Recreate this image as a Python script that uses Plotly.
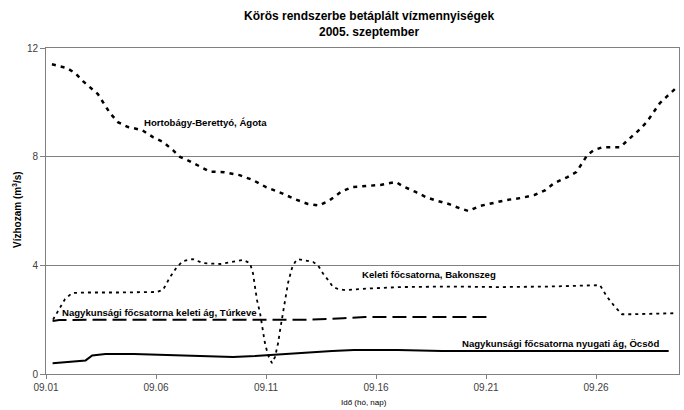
import plotly.graph_objects as go

# ---- data ----
tick_days = [1, 6, 11, 16, 21, 26]
tick_labels = ["09.01", "09.06", "09.11", "09.16", "09.21", "09.26"]

hb_day = [1.27, 1.95, 2.32, 2.68, 3.09, 3.36, 3.91, 4.27, 4.73, 5.36, 5.86, 6.32, 6.77, 7.09,
          7.41, 7.86, 8.45, 9.1, 9.8, 10.4, 11.0, 11.7, 12.3, 12.9, 13.4, 13.9, 14.4, 14.9,
          15.6, 16.2, 16.9, 17.2, 17.8, 18.3, 18.8, 19.3, 19.8, 20.2, 20.7, 21.3, 21.9, 22.6,
          23.2, 23.7, 24.1, 24.7, 25.1, 25.4, 25.6, 25.9, 26.3, 26.7, 27.1, 27.5, 27.9, 28.3,
          28.6, 28.9, 29.2, 29.6]
hb_val = [11.4, 11.26, 11.08, 10.78, 10.49, 10.3, 9.6, 9.27, 9.09, 8.98, 8.72, 8.54, 8.24, 7.99,
          7.88, 7.69, 7.45, 7.43, 7.32, 7.14, 6.88, 6.66, 6.44, 6.26, 6.2, 6.4, 6.7, 6.88,
          6.92, 6.96, 7.07, 6.92, 6.7, 6.5, 6.37, 6.26, 6.1, 6.0, 6.18, 6.3, 6.4, 6.48,
          6.59, 6.77, 7.03, 7.25, 7.43, 7.8, 8.06, 8.24, 8.35, 8.35, 8.35, 8.65, 8.94, 9.27,
          9.6, 9.97, 10.2, 10.5]

ke_day = [1.32, 1.55, 1.86, 2.18, 2.86, 4.36, 6.05, 6.32, 6.64, 6.95, 7.23, 7.68, 8.14, 8.91,
          9.5, 9.95, 10.27, 10.41, 10.5, 10.59, 10.73, 10.86, 10.95, 11.09, 11.27, 11.41,
          11.55, 11.64, 11.77, 11.86, 12.0, 12.18, 12.32, 12.45, 12.68, 13.14, 13.36, 13.59,
          13.82, 14.05, 14.27, 14.59, 15.73, 17.1, 19.4, 21.6, 23.9, 25.86, 26.18, 26.5,
          26.86, 27.18, 27.68, 29.68]
ke_val = [2.0, 2.3, 2.75, 2.98, 3.0, 3.0, 3.02, 3.1, 3.57, 3.94, 4.16, 4.23, 4.08, 4.05,
          4.12, 4.2, 4.08, 3.7, 3.2, 2.72, 2.24, 1.62, 1.14, 0.7, 0.4, 0.63,
          1.14, 1.62, 2.24, 2.72, 3.35, 3.9, 4.12, 4.23, 4.2, 4.12, 4.0, 3.7,
          3.46, 3.2, 3.13, 3.09, 3.15, 3.2, 3.22, 3.2, 3.22, 3.27, 3.27, 2.84,
          2.47, 2.2, 2.2, 2.24]

tu_day = [1.3, 1.6, 5.0, 9.0, 11.0, 13.0, 14.5, 15.5, 18.0, 21.2]
tu_val = [1.95, 1.99, 2.0, 2.0, 1.98, 2.0, 2.05, 2.1, 2.1, 2.1]

oc_day = [1.3, 2.0, 2.8, 3.1, 3.7, 5.0, 6.5, 8.0, 9.5, 10.5, 11.5, 12.5, 14.0, 15.0, 17.0,
          19.0, 23.0, 26.0, 29.3]
oc_val = [0.4, 0.45, 0.5, 0.68, 0.74, 0.74, 0.7, 0.65, 0.63, 0.66, 0.72, 0.78, 0.85, 0.88, 0.88,
          0.85, 0.84, 0.85, 0.85]

series_names = ["Hortobágy-Berettyó, Ágota",
                "Keleti főcsatorna, Bakonszeg",
                "Nagykunsági főcsatorna keleti ág, Túrkeve",
                "Nagykunsági főcsatorna nyugati ág, Öcsöd"]
label_x = [5.36, 15.27, 1.64, 19.8]
label_y = [9.27, 3.68, 2.28, 1.14]

title_lines = ["Körös rendszerbe betáplált vízmennyiségek", "2005. szeptember"]
y_title = "Vízhozam (m<sup>3</sup>/s)"
x_title = "Idő (hó, nap)"

FONT = "Arial, Liberation Sans, sans-serif"

fig = go.Figure()
fig.add_trace(go.Scatter(x=hb_day, y=hb_val, mode="lines", name=series_names[0],
                         line=dict(color="#000000", width=2.5, dash="4px,5px")))
fig.add_trace(go.Scatter(x=ke_day, y=ke_val, mode="lines", name=series_names[1],
                         line=dict(color="#000000", width=1.8, dash="3px,4px")))
fig.add_trace(go.Scatter(x=tu_day, y=tu_val, mode="lines", name=series_names[2],
                         line=dict(color="#000000", width=2, dash="14px,6px")))
fig.add_trace(go.Scatter(x=oc_day, y=oc_val, mode="lines", name=series_names[3],
                         line=dict(color="#000000", width=2)))

annotations = []
for name, lx, ly in zip(series_names, label_x, label_y):
    annotations.append(dict(x=lx, y=ly, xref="x", yref="y", text="<b>" + name + "</b>",
                            showarrow=False, xanchor="left", yanchor="middle",
                            font=dict(family=FONT, size=9.6, color="#000000")))

title_x = (369 - 46) / 633
annotations.append(dict(x=title_x, y=(374 - 16) / 326, xref="paper", yref="paper",
                        text="<b>" + title_lines[0] + "</b>", showarrow=False,
                        xanchor="center", yanchor="middle",
                        font=dict(family=FONT, size=12, color="#000000")))
annotations.append(dict(x=title_x, y=(374 - 32) / 326, xref="paper", yref="paper",
                        text="<b>" + title_lines[1] + "</b>", showarrow=False,
                        xanchor="center", yanchor="middle",
                        font=dict(family=FONT, size=12, color="#000000")))
annotations.append(dict(x=-29 / 633, y=(374 - 210) / 326, xref="paper", yref="paper",
                        text="<b>" + y_title + "</b>", showarrow=False, textangle=-90,
                        xanchor="center", yanchor="middle",
                        font=dict(family=FONT, size=10, color="#000000")))
annotations.append(dict(x=(364 - 46) / 633, y=-(402 - 374) / 326, xref="paper", yref="paper",
                        text=x_title, showarrow=False,
                        xanchor="center", yanchor="middle",
                        font=dict(family=FONT, size=8, color="#000000")))

fig.update_layout(
    width=684, height=410,
    margin=dict(l=46, r=5, t=48, b=36),
    paper_bgcolor="#ffffff", plot_bgcolor="#ffffff",
    showlegend=False,
    annotations=annotations,
    font=dict(family=FONT, size=10, color="#333333"),
)
fig.update_xaxes(range=[1, 29.77], tickmode="array", tickvals=tick_days, ticktext=tick_labels,
                 showgrid=False, zeroline=False, showline=True, linecolor="#808080",
                 linewidth=1, mirror=True, ticks="outside", ticklen=4, tickcolor="#808080",
                 automargin=False,
                 tickfont=dict(family=FONT, size=10, color="#404040"))
fig.update_yaxes(range=[0, 12], tickmode="array", tickvals=[0, 4, 8, 12],
                 showgrid=True, gridcolor="#808080", gridwidth=1, zeroline=False,
                 showline=True, linecolor="#808080", linewidth=1, mirror=True,
                 ticks="outside", ticklen=5, tickcolor="#808080", automargin=False,
                 tickfont=dict(family=FONT, size=10, color="#404040"))

fig.write_html("out.html", config={"displayModeBar": False},
               post_script="document.body.style.margin='0';")
